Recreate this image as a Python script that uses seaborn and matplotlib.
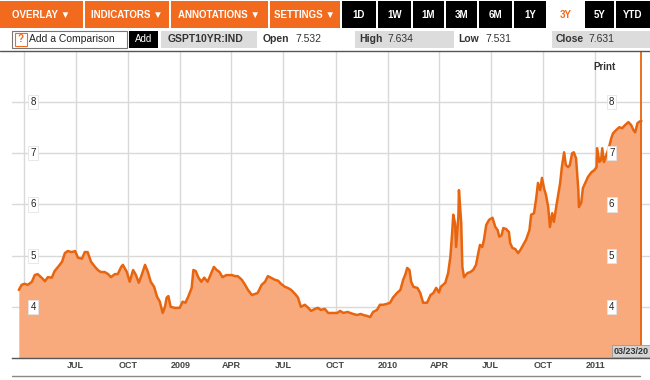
import numpy as np
import pandas as pd
import seaborn as sns
import matplotlib
matplotlib.use('Agg')
import matplotlib.pyplot as plt
import matplotlib.transforms as mtransforms
from matplotlib.patches import Rectangle

# =============================================================================
# Data: GSPT10YR:IND, 3Y daily close
# =============================================================================
dates = [
    '2008-03-23', '2008-03-28', '2008-04-02', '2008-04-08', '2008-04-15', '2008-04-20',
    '2008-04-25', '2008-05-02', '2008-05-08', '2008-05-13', '2008-05-20', '2008-05-25',
    '2008-05-31', '2008-06-07', '2008-06-12', '2008-06-17', '2008-06-24', '2008-06-30',
    '2008-07-05', '2008-07-12', '2008-07-17', '2008-07-22', '2008-07-28', '2008-08-04',
    '2008-08-09', '2008-08-14', '2008-08-21', '2008-08-27', '2008-09-01', '2008-09-08',
    '2008-09-13', '2008-09-19', '2008-09-22', '2008-09-29', '2008-10-04', '2008-10-10',
    '2008-10-15', '2008-10-20', '2008-10-25', '2008-10-31', '2008-11-05', '2008-11-10',
    '2008-11-16', '2008-11-21', '2008-11-26', '2008-12-01', '2008-12-05', '2008-12-08',
    '2008-12-11', '2008-12-15', '2008-12-22', '2008-12-31', '2009-01-05', '2009-01-10',
    '2009-01-15', '2009-01-21', '2009-01-24', '2009-01-28', '2009-02-02', '2009-02-07',
    '2009-02-12', '2009-02-18', '2009-02-23', '2009-03-01', '2009-03-06', '2009-03-11',
    '2009-03-16', '2009-03-23', '2009-04-02', '2009-04-07', '2009-04-12', '2009-04-19',
    '2009-04-25', '2009-04-30', '2009-05-07', '2009-05-12', '2009-05-17', '2009-05-24',
    '2009-05-30', '2009-06-04', '2009-06-09', '2009-06-16', '2009-06-22', '2009-06-27',
    '2009-07-04', '2009-07-09', '2009-07-15', '2009-07-22', '2009-07-27', '2009-08-01',
    '2009-08-08', '2009-08-14', '2009-08-19', '2009-08-26', '2009-08-31', '2009-09-05',
    '2009-09-12', '2009-09-18', '2009-09-25', '2009-10-04', '2009-10-09', '2009-10-15',
    '2009-10-22', '2009-10-27', '2009-11-01', '2009-11-08', '2009-11-14', '2009-11-19',
    '2009-11-26', '2009-12-01', '2009-12-06', '2009-12-13', '2009-12-18', '2009-12-24',
    '2009-12-31', '2010-01-05', '2010-01-10', '2010-01-17', '2010-01-23', '2010-01-28',
    '2010-02-01', '2010-02-04', '2010-02-08', '2010-02-11', '2010-02-15', '2010-02-22',
    '2010-02-27', '2010-03-04', '2010-03-11', '2010-03-17', '2010-03-22', '2010-03-27',
    '2010-04-01', '2010-04-04', '2010-04-12', '2010-04-17', '2010-04-21', '2010-04-24',
    '2010-04-26', '2010-04-29', '2010-05-01', '2010-05-05', '2010-05-06', '2010-05-10',
    '2010-05-12', '2010-05-15', '2010-05-21', '2010-05-26', '2010-05-31', '2010-06-05',
    '2010-06-09', '2010-06-12', '2010-06-16', '2010-06-19', '2010-06-23', '2010-06-28',
    '2010-07-04', '2010-07-09', '2010-07-13', '2010-07-16', '2010-07-20', '2010-07-23',
    '2010-07-28', '2010-08-02', '2010-08-04', '2010-08-08', '2010-08-13', '2010-08-18',
    '2010-08-22', '2010-08-27', '2010-09-01', '2010-09-07', '2010-09-10', '2010-09-15',
    '2010-09-19', '2010-09-22', '2010-09-26', '2010-09-29', '2010-10-03', '2010-10-06',
    '2010-10-10', '2010-10-13', '2010-10-17', '2010-10-20', '2010-10-24', '2010-10-27',
    '2010-10-31', '2010-11-03', '2010-11-07', '2010-11-10', '2010-11-14', '2010-11-17',
    '2010-11-21', '2010-11-24', '2010-11-28', '2010-12-02', '2010-12-03', '2010-12-07',
    '2010-12-10', '2010-12-14', '2010-12-19', '2010-12-25', '2010-12-30', '2011-01-03',
    '2011-01-04', '2011-01-08', '2011-01-11', '2011-01-13', '2011-01-16', '2011-01-20',
    '2011-01-25', '2011-01-29', '2011-02-01', '2011-02-06', '2011-02-12', '2011-02-17',
    '2011-02-22', '2011-02-28', '2011-03-05', '2011-03-09', '2011-03-12', '2011-03-16',
    '2011-03-21', '2011-03-23',
]
yields = [
    4.33, 4.43, 4.45, 4.43, 4.49, 4.62, 4.64, 4.57, 4.50, 4.58, 4.57, 4.70,
    4.78, 4.88, 5.05, 5.09, 5.07, 5.09, 4.96, 4.94, 5.07, 5.07, 4.88, 4.78,
    4.72, 4.68, 4.68, 4.64, 4.58, 4.64, 4.64, 4.78, 4.82, 4.68, 4.49, 4.72,
    4.62, 4.47, 4.62, 4.82, 4.68, 4.49, 4.39, 4.20, 4.10, 3.88, 4.00, 4.18,
    4.21, 4.00, 3.98, 3.98, 4.10, 4.08, 4.20, 4.37, 4.72, 4.70, 4.57, 4.49,
    4.57, 4.49, 4.62, 4.78, 4.72, 4.68, 4.58, 4.62, 4.62, 4.60, 4.60, 4.53,
    4.43, 4.33, 4.23, 4.25, 4.27, 4.43, 4.49, 4.60, 4.57, 4.53, 4.51, 4.45,
    4.39, 4.37, 4.33, 4.25, 4.18, 4.00, 4.04, 3.98, 3.92, 3.96, 3.98, 3.94,
    3.96, 3.88, 3.88, 3.88, 3.92, 3.88, 3.90, 3.88, 3.86, 3.84, 3.86, 3.84,
    3.82, 3.80, 3.90, 3.94, 4.04, 4.04, 4.06, 4.08, 4.18, 4.27, 4.33, 4.53,
    4.64, 4.76, 4.72, 4.49, 4.39, 4.37, 4.27, 4.08, 4.08, 4.23, 4.27, 4.37,
    4.28, 4.39, 4.47, 4.66, 4.98, 5.44, 5.80, 5.64, 5.17, 5.76, 6.28, 5.64,
    4.78, 4.58, 4.66, 4.68, 4.72, 4.82, 5.05, 5.21, 5.17, 5.31, 5.60, 5.70,
    5.74, 5.56, 5.50, 5.37, 5.40, 5.54, 5.52, 5.46, 5.25, 5.15, 5.13, 5.05,
    5.11, 5.21, 5.31, 5.50, 5.80, 5.83, 6.13, 6.42, 6.28, 6.52, 6.30, 6.19,
    5.95, 5.56, 5.83, 5.66, 5.95, 6.15, 6.42, 6.73, 7.02, 6.77, 6.73, 6.77,
    7.00, 7.02, 6.90, 6.28, 5.95, 6.03, 6.32, 6.42, 6.54, 6.63, 6.67, 6.73,
    7.10, 6.83, 6.87, 7.10, 6.83, 6.96, 7.12, 7.30, 7.39, 7.45, 7.51, 7.49,
    7.55, 7.61, 7.55, 7.45, 7.41, 7.59, 7.63, 7.63,
]

tick_dates = ['2008-04-01', '2008-07-01', '2008-10-01', '2009-01-01', '2009-04-01',
              '2009-07-01', '2009-10-01', '2010-01-01', '2010-04-01', '2010-07-01',
              '2010-10-01', '2011-01-01']
tick_labels = ['', 'JUL', 'OCT', '2009', 'APR', 'JUL', 'OCT', '2010', 'APR', 'JUL',
               'OCT', '2011']
y_levels = [4, 5, 6, 7, 8]

toolbar_labels = ['OVERLAY \u25BC', 'INDICATORS \u25BC', 'ANNOTATIONS \u25BC', 'SETTINGS \u25BC',
                  '1D', '1W', '1M', '3M', '6M', '1Y', '3Y', '5Y', 'YTD']
quote = {'Open': '7.532', 'High': '7.634', 'Low': '7.531', 'Close': '7.631'}
ticker = 'GSPT10YR:IND'
last_date = '03/23/20'

# =============================================================================
# Style
# =============================================================================
LINE = '#E8650F'
FILL = '#F8AA7C'
ORANGE = '#F26A1E'
GRID = '#d9d9d9'

sns.set_theme(style='white')
plt.rcParams['font.family'] = ['Liberation Sans', 'DejaVu Sans']

W, H = 650, 380
fig = plt.figure(figsize=(6.5, 3.8), dpi=100)
fig.patch.set_facecolor('white')

# main chart area in pixels: x 12..650, y 52..358
ax = fig.add_axes([12 / W, 1 - 358 / H, 638 / W, (358 - 52) / H])

df = pd.DataFrame({'date': pd.to_datetime(dates), 'yield': yields})
ax.fill_between(df['date'], 3, df['yield'], color=FILL, lw=0, zorder=2)
sns.lineplot(data=df, x='date', y='yield', ax=ax, color=LINE, lw=1.8, zorder=3)
ax.axvline(df['date'].iloc[-1], color=LINE, lw=1.3, zorder=4)

ax.set_xlim(pd.Timestamp('2008-03-11'), pd.Timestamp('2011-04-07'))
ax.set_ylim(3.0, 8.98)
ax.set_xticks(pd.to_datetime(tick_dates))
ax.set_xticklabels(tick_labels, fontsize=6.5, fontweight='bold', color='#444444')
ax.set_yticks(y_levels)
ax.set_yticklabels([])
ax.grid(True, color=GRID, lw=1, zorder=0)
ax.set_axisbelow(True)
ax.tick_params(axis='x', length=0, pad=2)
ax.tick_params(axis='y', length=0)
ax.set_xlabel('')
ax.set_ylabel('')
for s in ['top', 'left', 'right']:
    ax.spines[s].set_visible(False)
ax.spines['bottom'].set_color('#555555')
ax.spines['bottom'].set_linewidth(1)

trans = mtransforms.blended_transform_factory(ax.transAxes, ax.transData)
for v in y_levels:
    for xf in (0.033, 0.940):
        ax.text(xf, v, str(v), transform=trans, ha='center', va='center', fontsize=7,
                color='#222222', zorder=5,
                bbox=dict(facecolor='white', edgecolor='#e4e4e4', pad=1.5, lw=0.6))

ax.text(0.928, 0.95, 'Print', transform=ax.transAxes, ha='center', va='center',
        fontsize=7, fontweight='bold', color='#333333', zorder=5)

# =============================================================================
# Toolbar and overlays in pixel coordinates
# =============================================================================
ov = fig.add_axes([0, 0, 1, 1])
ov.set_xlim(0, W)
ov.set_ylim(H, 0)
ov.axis('off')
ov.patch.set_alpha(0)

edges = [(0, 83), (85, 169), (171, 268), (270, 340), (342, 376), (378, 411), (413, 444),
         (446, 477), (479, 512), (514, 546), (548, 583), (585, 614), (616, 650)]
for i, (lab, (x0, x1)) in enumerate(zip(toolbar_labels, edges)):
    if i < 4:
        bg, fc = ORANGE, 'white'
    elif lab == '3Y':
        bg, fc = 'white', ORANGE
    else:
        bg, fc = 'black', 'white'
    ov.add_patch(Rectangle((x0, 1), x1 - x0, 27, facecolor=bg, edgecolor='none'))
    ov.text((x0 + x1) / 2, 15, lab, ha='center', va='center', fontsize=7,
            fontweight='bold', color=fc)

# second row
ov.add_patch(Rectangle((12, 31), 115, 17, facecolor='white', edgecolor='#777777', lw=0.8))
ov.add_patch(Rectangle((15, 33), 12, 13, facecolor='white', edgecolor=ORANGE, lw=0.8))
ov.text(21, 39.5, '?', ha='center', va='center', fontsize=7, color=ORANGE, fontweight='bold')
ov.text(29, 39.5, 'Add a Comparison', ha='left', va='center', fontsize=7.5, color='#222222')
ov.add_patch(Rectangle((129, 31), 29, 17, facecolor='black', edgecolor='none'))
ov.text(143.5, 39.5, 'Add', ha='center', va='center', fontsize=7, color='white')
ov.add_patch(Rectangle((161, 31), 96, 17, facecolor='#dcdcdc', edgecolor='none'))
ov.text(168, 39.5, ticker, ha='left', va='center', fontsize=7.5, fontweight='bold',
        color='#333333')

boxes = {'Open': (259, 355, 'white', 263, 295), 'High': (355, 454, '#dcdcdc', 359, 387),
         'Low': (454, 552, 'white', 458, 485), 'Close': (552, 650, '#dcdcdc', 556, 588)}
for k, v in quote.items():
    x0, x1, bg, tx, vx = boxes[k]
    ov.add_patch(Rectangle((x0, 31), x1 - x0, 17, facecolor=bg, edgecolor='none'))
    ov.text(tx, 39.5, k, ha='left', va='center', fontsize=7.5, fontweight='bold',
            color='#333333')
    ov.text(vx, 39.5, v, ha='left', va='center', fontsize=7.5, color='#333333')

# chart frame lines
ov.plot([0, 650], [51, 51], color='#555555', lw=1)
ov.plot([12, 640], [376, 376], color='#888888', lw=1)

# last date box (cut at the right edge, as on screen)
ov.add_patch(Rectangle((612, 345), 40, 12, facecolor='#d4d4d4', edgecolor='#999999', lw=0.6))
ov.text(614, 351.5, last_date, ha='left', va='center', fontsize=6.5, color='#333333',
        fontweight='bold')

fig.savefig('out.png', dpi=100)
